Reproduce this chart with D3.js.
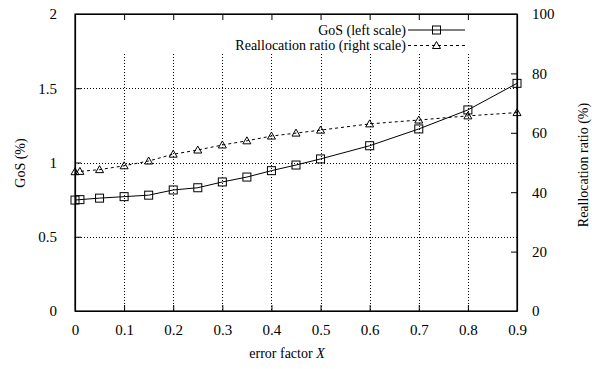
<!DOCTYPE html>
<html>
<head>
<meta charset="utf-8">
<script src="https://cdn.jsdelivr.net/npm/d3@7"></script>
<style>
body { margin: 0; background: #fff; }
svg text { font-family: "Liberation Serif", "Times New Roman", "DejaVu Serif", serif; font-size: 14px; fill: #000; }
svg .tick text { font-size: 15px; }
</style>
</head>
<body>
<div id="chart"></div>
<script>
// x values (error factor X)
var xs = [0, 0.01, 0.05, 0.1, 0.15, 0.2, 0.25, 0.3, 0.35, 0.4, 0.45, 0.5, 0.6, 0.7, 0.8, 0.9];
// GoS (%), left scale
var gos = [0.747, 0.75, 0.76, 0.77, 0.78, 0.815, 0.83, 0.869, 0.902, 0.945, 0.983, 1.024, 1.113, 1.226, 1.354, 1.533];
// reallocation ratio (%), right scale
var realloc = [46.9, 47.0, 47.6, 48.9, 50.5, 52.8, 54.2, 55.9, 57.3, 58.9, 59.9, 60.9, 63.0, 64.3, 65.7, 66.8];

var xTicks = [0, 0.1, 0.2, 0.3, 0.4, 0.5, 0.6, 0.7, 0.8, 0.9];
var yTicks = [0, 0.5, 1, 1.5, 2];
var y2Ticks = [0, 20, 40, 60, 80, 100];

var W = 592, H = 369;
var L = 75, R = 517, T = 14, B = 311;

var svg = d3.select("#chart").append("svg").attr("width", W).attr("height", H);

var x = d3.scaleLinear().domain([0, 0.9]).range([L, R]);
var y = d3.scaleLinear().domain([0, 2]).range([B, T]);
var y2 = d3.scaleLinear().domain([0, 100]).range([B, T]);

// grid (vertical grid lines stop under the key)
var grid = svg.append("g").attr("stroke", "#000").attr("stroke-width", 1)
    .attr("stroke-dasharray", "1,2").attr("shape-rendering", "crispEdges");
grid.selectAll("line.v").data(xTicks.slice(1, -1)).enter().append("line")
    .attr("x1", function(d) { return Math.round(x(d)) + 0.5; })
    .attr("x2", function(d) { return Math.round(x(d)) + 0.5; })
    .attr("y1", 54).attr("y2", B);
grid.selectAll("line.h").data(yTicks.slice(1, -1)).enter().append("line")
    .attr("x1", L).attr("x2", R)
    .attr("y1", function(d) { return Math.round(y(d)) + 0.5; })
    .attr("y2", function(d) { return Math.round(y(d)) + 0.5; });

// axes, ticks pointing inward
var tk = 6;
svg.append("g").attr("transform", "translate(0," + B + ")")
    .call(d3.axisBottom(x).tickValues(xTicks).tickSizeInner(-tk).tickSizeOuter(0).tickPadding(13)
        .tickFormat(function(d) { return d === 0 ? "0" : d3.format(".1f")(d); }));
svg.append("g").attr("transform", "translate(0," + T + ")")
    .call(d3.axisTop(x).tickValues(xTicks).tickSizeInner(-tk).tickSizeOuter(0).tickFormat(""));
svg.append("g").attr("transform", "translate(" + L + ",0)")
    .call(d3.axisLeft(y).tickValues(yTicks).tickSizeInner(-tk).tickSizeOuter(0).tickPadding(18)
        .tickFormat(function(d) { return d3.format("")(d); }));
svg.append("g").attr("transform", "translate(" + R + ",0)")
    .call(d3.axisRight(y2).tickValues(y2Ticks).tickSizeInner(-tk).tickSizeOuter(0).tickPadding(15));

svg.selectAll("g").attr("font-family", null).attr("font-size", null);
svg.selectAll(".domain").attr("stroke-width", 1.2);
svg.append("rect").attr("x", L).attr("y", T).attr("width", R - L).attr("height", B - T)
    .attr("fill", "none").attr("stroke", "#000").attr("stroke-width", 1.2);

// lines
var gosLine = d3.line().x(function(d, i) { return x(xs[i]); }).y(function(d) { return y(d); });
var reLine = d3.line().x(function(d, i) { return x(xs[i]); }).y(function(d) { return y2(d); });

svg.append("path").attr("d", gosLine(gos)).attr("fill", "none").attr("stroke", "#000").attr("stroke-width", 1);
svg.append("path").attr("d", reLine(realloc)).attr("fill", "none").attr("stroke", "#000")
    .attr("stroke-width", 1).attr("stroke-dasharray", "3,3");

var sq = 8;
function square(g, cx, cy) {
    g.append("rect").attr("x", cx - sq / 2).attr("y", cy - sq / 2).attr("width", sq).attr("height", sq)
        .attr("fill", "none").attr("stroke", "#000").attr("stroke-width", 1);
}
function tri(g, cx, cy) {
    g.append("path").attr("d", "M" + (cx - 4) + "," + (cy + 3) + "L" + (cx + 4) + "," + (cy + 3) + "L" + cx + "," + (cy - 4) + "Z")
        .attr("fill", "none").attr("stroke", "#000").attr("stroke-width", 1);
}
var marks = svg.append("g");
gos.forEach(function(d, i) { square(marks, x(xs[i]), y(d)); });
realloc.forEach(function(d, i) { tri(marks, x(xs[i]), y2(d)); });

// key
var key = svg.append("g");
key.append("text").attr("x", 406).attr("y", 35).attr("text-anchor", "end").text("GoS (left scale)");
key.append("text").attr("x", 406).attr("y", 50).attr("text-anchor", "end").text("Reallocation ratio (right scale)");
key.append("line").attr("x1", 408).attr("x2", 465).attr("y1", 30).attr("y2", 30).attr("stroke", "#000");
square(key, 436.5, 30);
key.append("line").attr("x1", 408).attr("x2", 465).attr("y1", 45.5).attr("y2", 45.5).attr("stroke", "#000")
    .attr("stroke-dasharray", "3,3");
tri(key, 436.5, 45.5);

// axis titles
svg.append("text").attr("transform", "translate(25,163) rotate(-90)").attr("text-anchor", "middle").text("GoS (%)");
svg.append("text").attr("transform", "translate(588,165) rotate(-90)").attr("text-anchor", "middle").text("Reallocation ratio (%)");
var xl = svg.append("text").attr("x", 287).attr("y", 358).attr("text-anchor", "middle");
xl.append("tspan").text("error factor ");
xl.append("tspan").style("font-style", "italic").text("X");
</script>
</body>
</html>
